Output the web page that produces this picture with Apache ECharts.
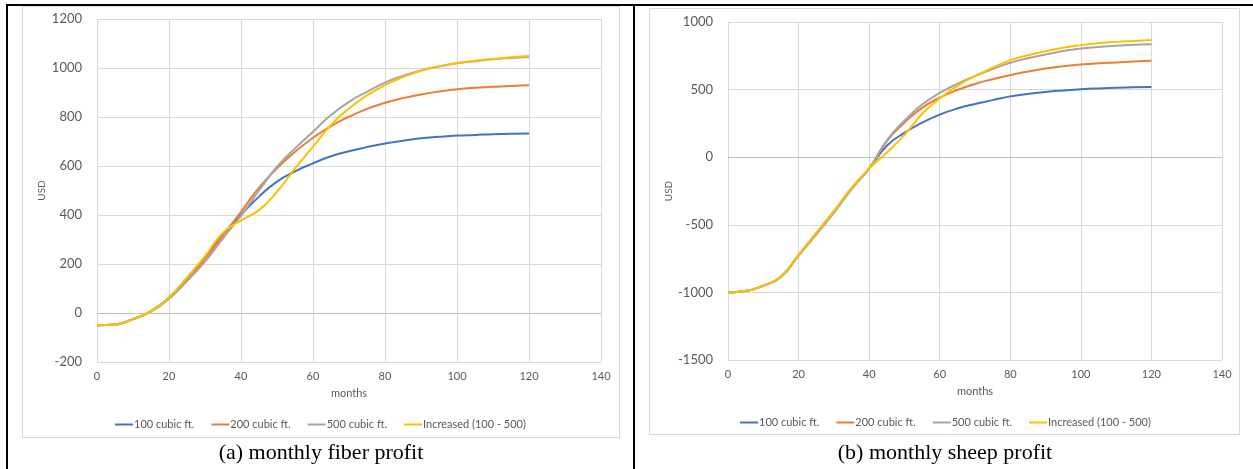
<!DOCTYPE html>
<html>
<head>
<meta charset="utf-8">
<script src="https://cdn.jsdelivr.net/npm/echarts@6/dist/echarts.min.js"></script>
<style>
  html, body { margin: 0; padding: 0; background: #fff; }
  #chart { width: 1253px; height: 469px; }
</style>
</head>
<body>
<div id="chart"></div>
<script>
// Months at which the profit curves are sampled
const months = [0, 5, 10, 15, 20, 25, 30, 35, 40, 45, 50, 55, 60, 65, 70, 75, 80, 85, 90, 95, 100, 105, 110, 115, 120];

// (a) monthly fiber profit, USD
const fiber100 = [-50, -47, -25, 8, 62, 140, 228, 320, 400, 475, 536, 578, 611, 640, 660, 677, 692, 703, 713, 719, 724, 727, 730, 732, 733];
const fiber200 = [-50, -47, -25, 8, 62, 138, 222, 318, 413, 512, 590, 658, 715, 763, 801, 833, 858, 877, 892, 904, 913, 919, 923, 927, 930];
const fiber500 = [-50, -47, -25, 6, 58, 130, 210, 305, 397, 500, 597, 672, 740, 808, 862, 903, 940, 968, 990, 1006, 1019, 1028, 1036, 1041, 1045];
const fiberInc = [-50, -47, -25, 8, 64, 145, 232, 328, 378, 420, 495, 590, 679, 768, 835, 888, 930, 963, 989, 1007, 1020, 1030, 1037, 1044, 1049];

// (b) monthly sheep profit, USD
const sheep100 = [-1000, -990, -950, -884, -725, -565, -405, -232, -84, 85, 180, 255, 315, 360, 394, 422, 450, 468, 483, 494, 503, 509, 513, 517, 520];
const sheep200 = [-1000, -990, -950, -884, -725, -562, -400, -228, -82, 118, 255, 365, 440, 497, 542, 577, 607, 634, 656, 673, 686, 695, 701, 708, 713];
const sheep500 = [-1000, -990, -950, -886, -730, -572, -412, -238, -84, 125, 270, 390, 475, 543, 600, 652, 698, 732, 760, 785, 804, 815, 824, 831, 836];
const sheepInc = [-1000, -990, -950, -884, -722, -560, -400, -228, -84, 35, 165, 320, 435, 528, 600, 662, 718, 754, 784, 810, 829, 843, 853, 860, 866];

const seriesNames = ['100 cubic ft.', '200 cubic ft.', '500 cubic ft.', 'Increased (100 - 500)'];
const seriesColors = ['#4472C4', '#ED7D31', '#A5A5A5', '#FFC000'];

const fiberTicks = { min: -200, max: 1200, interval: 200 };
const sheepTicks = { min: -1500, max: 1000, interval: 500 };
const monthTicks = { min: 0, max: 140, interval: 20 };

const captions = ['(a) monthly fiber profit', '(b) monthly sheep profit'];

const font = 'Lato, "Open Sans", sans-serif';

function pairs(values) {
  return months.map((m, i) => [m, values[i]]);
}

function lineSeries(values, idx, axisIdx) {
  return {
    name: seriesNames[idx],
    type: 'line',
    xAxisIndex: axisIdx,
    yAxisIndex: axisIdx,
    data: pairs(values),
    smooth: 0.5,
    showSymbol: false,
    symbol: 'none',
    lineStyle: { width: 2, color: seriesColors[idx] },
    itemStyle: { color: seriesColors[idx] },
    z: 3 + idx,
    silent: true
  };
}

function zeroLine(axisIdx) {
  return {
    type: 'line',
    xAxisIndex: axisIdx,
    yAxisIndex: axisIdx,
    data: [],
    silent: true,
    markLine: {
      silent: true,
      symbol: 'none',
      label: { show: false },
      lineStyle: { color: '#bfbfbf', width: 1, type: 'solid' },
      data: [{ yAxis: 0 }],
      animation: false
    },
    z: 2
  };
}

function xAxis(gridIndex) {
  return {
    type: 'value',
    gridIndex: gridIndex,
    min: monthTicks.min,
    max: monthTicks.max,
    interval: monthTicks.interval,
    name: 'months',
    nameLocation: 'middle',
    nameGap: 26,
    nameTextStyle: { fontFamily: font, fontSize: 11, color: '#595959' },
    axisLine: { show: false },
    axisTick: { show: false },
    axisLabel: { fontFamily: font, fontSize: 11, color: '#595959', margin: 9 },
    splitLine: { show: true, lineStyle: { color: '#d9d9d9', width: 1 } }
  };
}

function yAxis(gridIndex, ticks, gap) {
  return {
    type: 'value',
    gridIndex: gridIndex,
    min: ticks.min,
    max: ticks.max,
    interval: ticks.interval,
    name: 'USD',
    nameLocation: 'middle',
    nameRotate: 90,
    nameGap: gap,
    nameTextStyle: { fontFamily: font, fontSize: 10, color: '#595959' },
    axisLine: { show: false },
    axisTick: { show: false },
    axisLabel: { fontFamily: font, fontSize: 13, color: '#595959', margin: 15, formatter: v => String(v) },
    splitLine: { show: true, lineStyle: { color: '#d9d9d9', width: 1 } }
  };
}

function legend(left, top) {
  return {
    left: left,
    top: top,
    padding: 0,
    orient: 'horizontal',
    data: seriesNames,
    icon: 'rect',
    itemWidth: 18,
    itemHeight: 2,
    itemGap: 17,
    selectedMode: false,
    textStyle: { fontFamily: font, fontSize: 11, color: '#595959', padding: [0, 0, 0, -4] }
  };
}

const chart = echarts.init(document.getElementById('chart'), null, { renderer: 'canvas' });

chart.setOption({
  animation: false,
  backgroundColor: '#ffffff',
  grid: [
    { left: 97, top: 19, width: 504, height: 343 },
    { left: 728, top: 22, width: 494, height: 338 }
  ],
  xAxis: [xAxis(0), xAxis(1)],
  yAxis: [yAxis(0, fiberTicks, 50), yAxis(1, sheepTicks, 54)],
  legend: [legend(115, 419), legend(740, 417)],
  graphic: [
    // chart frames
    { type: 'rect', shape: { x: 22.5, y: 6.5, width: 597, height: 431 }, style: { fill: 'none', stroke: '#d9d9d9', lineWidth: 1 }, silent: true },
    { type: 'rect', shape: { x: 649.5, y: 8.5, width: 590, height: 426 }, style: { fill: 'none', stroke: '#d9d9d9', lineWidth: 1 }, silent: true },
    // table rules
    { type: 'line', shape: { x1: 6, y1: 5, x2: 1253, y2: 5 }, style: { stroke: '#000', lineWidth: 2 }, silent: true },
    { type: 'line', shape: { x1: 7, y1: 4, x2: 7, y2: 469 }, style: { stroke: '#000', lineWidth: 2 }, silent: true },
    { type: 'line', shape: { x1: 634, y1: 4, x2: 634, y2: 469 }, style: { stroke: '#000', lineWidth: 2 }, silent: true },
    // captions
    { type: 'text', x: 321, y: 453, style: { text: captions[0], font: '22px "Liberation Serif", "DejaVu Serif", serif', fill: '#000', align: 'center', verticalAlign: 'middle' }, silent: true },
    { type: 'text', x: 945, y: 453, style: { text: captions[1], font: '22px "Liberation Serif", "DejaVu Serif", serif', fill: '#000', align: 'center', verticalAlign: 'middle' }, silent: true }
  ],
  series: [
    zeroLine(0),
    lineSeries(fiber100, 0, 0),
    lineSeries(fiber200, 1, 0),
    lineSeries(fiber500, 2, 0),
    lineSeries(fiberInc, 3, 0),
    zeroLine(1),
    lineSeries(sheep100, 0, 1),
    lineSeries(sheep200, 1, 1),
    lineSeries(sheep500, 2, 1),
    lineSeries(sheepInc, 3, 1)
  ]
});
</script>
</body>
</html>
